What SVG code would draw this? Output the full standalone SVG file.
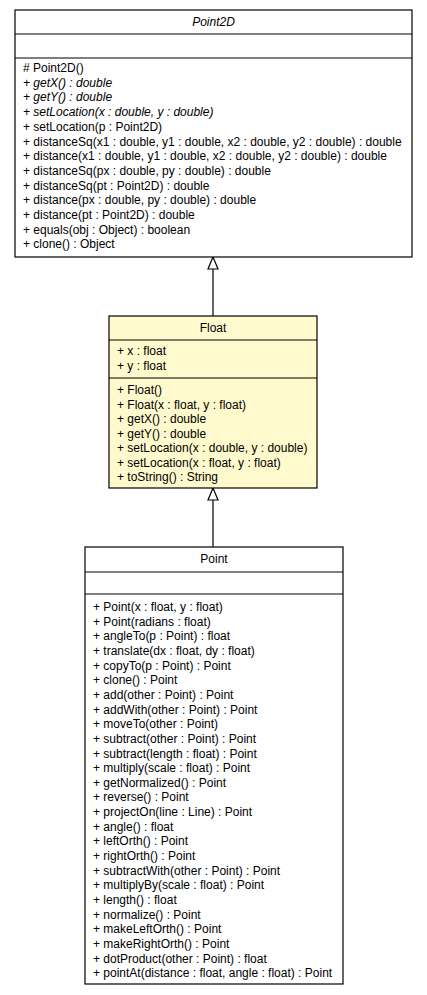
<svg xmlns="http://www.w3.org/2000/svg" width="427" height="995" viewBox="0 0 427 995">
<style>
.box{stroke:#000;stroke-width:1.2;fill:#fff}
.cur{fill:#fffacd}
.sep{stroke:#000;stroke-width:1.2}
text{font-family:"Liberation Sans",Arial,Helvetica,sans-serif;font-size:12px;fill:#000}
.t{text-anchor:middle}
.i{font-style:italic}
.edge{stroke:#000;stroke-width:1.2;fill:none}
</style>
<defs>
<marker id="gen" markerWidth="14" markerHeight="12" refX="13" refY="6" orient="auto" markerUnits="userSpaceOnUse" viewBox="0 0 14 12">
<path d="M13,6 L1,1 L1,11 Z" fill="#fff" stroke="#000" stroke-width="1.2"/>
</marker>
</defs>
<rect width="427" height="995" fill="#fff"/>
<g id="edges">
<path class="edge" d="M213,316 L213,257" marker-end="url(#gen)"/>
<path class="edge" d="M213,547 L213,488" marker-end="url(#gen)"/>
</g>
<g id="Point2D">
<rect class="box" x="15" y="10" width="397" height="247"/>
<line class="sep" x1="15" y1="34" x2="412" y2="34"/>
<line class="sep" x1="15" y1="58" x2="412" y2="58"/>
<text class="t i" x="213.5" y="26">Point2D</text>
<text x="23" y="72"># Point2D()</text>
<text class="i" x="23" y="86.7">+ getX() : double</text>
<text class="i" x="23" y="101.4">+ getY() : double</text>
<text class="i" x="23" y="116.1">+ setLocation(x : double, y : double)</text>
<text x="23" y="130.8">+ setLocation(p : Point2D)</text>
<text x="23" y="145.5">+ distanceSq(x1 : double, y1 : double, x2 : double, y2 : double) : double</text>
<text x="23" y="160.2">+ distance(x1 : double, y1 : double, x2 : double, y2 : double) : double</text>
<text x="23" y="174.9">+ distanceSq(px : double, py : double) : double</text>
<text x="23" y="189.6">+ distanceSq(pt : Point2D) : double</text>
<text x="23" y="204.3">+ distance(px : double, py : double) : double</text>
<text x="23" y="219">+ distance(pt : Point2D) : double</text>
<text x="23" y="233.7">+ equals(obj : Object) : boolean</text>
<text x="23" y="248.4">+ clone() : Object</text>
</g>
<g id="Float">
<rect class="box cur" x="109" y="316" width="208" height="172"/>
<line class="sep" x1="109" y1="340" x2="317" y2="340"/>
<line class="sep" x1="109" y1="378" x2="317" y2="378"/>
<text class="t" x="213" y="332">Float</text>
<text x="117" y="355">+ x : float</text>
<text x="117" y="370">+ y : float</text>
<text x="117" y="394">+ Float()</text>
<text x="117" y="408.5">+ Float(x : float, y : float)</text>
<text x="117" y="423">+ getX() : double</text>
<text x="117" y="437.5">+ getY() : double</text>
<text x="117" y="452">+ setLocation(x : double, y : double)</text>
<text x="117" y="466.5">+ setLocation(x : float, y : float)</text>
<text x="117" y="481">+ toString() : String</text>
</g>
<g id="Point">
<rect class="box" x="85" y="547" width="258" height="437"/>
<line class="sep" x1="85" y1="572" x2="343" y2="572"/>
<line class="sep" x1="85" y1="594" x2="343" y2="594"/>
<text class="t" x="214" y="563">Point</text>
<text x="93" y="611">+ Point(x : float, y : float)</text>
<text x="93" y="625.65">+ Point(radians : float)</text>
<text x="93" y="640.3">+ angleTo(p : Point) : float</text>
<text x="93" y="654.95">+ translate(dx : float, dy : float)</text>
<text x="93" y="669.6">+ copyTo(p : Point) : Point</text>
<text x="93" y="684.25">+ clone() : Point</text>
<text x="93" y="698.9">+ add(other : Point) : Point</text>
<text x="93" y="713.55">+ addWith(other : Point) : Point</text>
<text x="93" y="728.2">+ moveTo(other : Point)</text>
<text x="93" y="742.85">+ subtract(other : Point) : Point</text>
<text x="93" y="757.5">+ subtract(length : float) : Point</text>
<text x="93" y="772.15">+ multiply(scale : float) : Point</text>
<text x="93" y="786.8">+ getNormalized() : Point</text>
<text x="93" y="801.45">+ reverse() : Point</text>
<text x="93" y="816.1">+ projectOn(line : Line) : Point</text>
<text x="93" y="830.75">+ angle() : float</text>
<text x="93" y="845.4">+ leftOrth() : Point</text>
<text x="93" y="860.05">+ rightOrth() : Point</text>
<text x="93" y="874.7">+ subtractWith(other : Point) : Point</text>
<text x="93" y="889.35">+ multiplyBy(scale : float) : Point</text>
<text x="93" y="904">+ length() : float</text>
<text x="93" y="918.65">+ normalize() : Point</text>
<text x="93" y="933.3">+ makeLeftOrth() : Point</text>
<text x="93" y="947.95">+ makeRightOrth() : Point</text>
<text x="93" y="962.6">+ dotProduct(other : Point) : float</text>
<text x="93" y="977.25">+ pointAt(distance : float, angle : float) : Point</text>
</g>
</svg>
